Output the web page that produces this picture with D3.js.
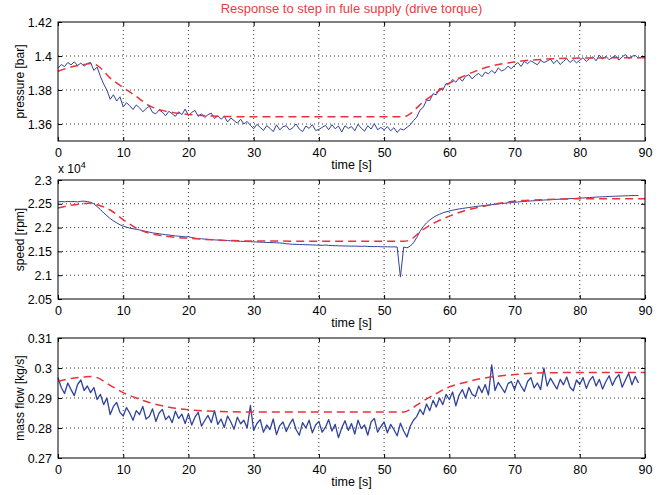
<!DOCTYPE html>
<html>
<head>
<meta charset="utf-8">
<script src="https://cdn.jsdelivr.net/npm/d3@7"></script>
<style>
  body { margin: 0; background: #fff; }
  text { font-family: "Liberation Sans", Arial, sans-serif; }
</style>
</head>
<body>
<div id="chart"></div>
<script>
// ---- data ----
// measured signals sampled every 0.5 s from 0 to 89 s
const sampleStep = 0.5;
const measTime = d3.range(0, 89 + sampleStep / 2, sampleStep);

const pressureMeas = [
  1.3928,1.3950,1.3938,1.3962,1.3948,1.3966,1.3944,1.3958,1.3940,1.3956,
  1.3962,1.3915,1.3935,1.3880,1.3835,1.3800,1.3745,1.3772,1.3735,1.3760,
  1.3700,1.3725,1.3708,1.3685,1.3712,1.3695,1.3672,1.3690,1.3705,1.3668,
  1.3660,1.3682,1.3670,1.3648,1.3675,1.3660,1.3645,1.3672,1.3655,1.3688,
  1.3650,1.3668,1.3680,1.3645,1.3660,1.3638,1.3655,1.3664,1.3632,1.3648,
  1.3628,1.3645,1.3612,1.3635,1.3620,1.3605,1.3628,1.3600,1.3615,1.3592,
  1.3572,1.3598,1.3580,1.3562,1.3590,1.3575,1.3555,1.3595,1.3566,1.3584,
  1.3590,1.3565,1.3578,1.3600,1.3570,1.3555,1.3588,1.3574,1.3596,1.3562,
  1.3568,1.3580,1.3592,1.3566,1.3596,1.3572,1.3588,1.3553,1.3590,1.3574,
  1.3585,1.3560,1.3598,1.3575,1.3558,1.3590,1.3570,1.3602,1.3566,1.3580,
  1.3566,1.3585,1.3560,1.3578,1.3550,1.3572,1.3565,1.3580,1.3595,1.3620,
  1.3640,1.3682,1.3698,1.3740,1.3738,1.3778,1.3772,1.3810,1.3800,1.3838,
  1.3835,1.3862,1.3846,1.3872,1.3852,1.3880,1.3890,1.3865,1.3885,1.3898,
  1.3878,1.3905,1.3895,1.3915,1.3898,1.3930,1.3912,1.3920,1.3940,1.3925,
  1.3945,1.3962,1.3938,1.3968,1.3955,1.3972,1.3960,1.3948,1.3975,1.3962,
  1.3970,1.3982,1.3955,1.3976,1.3950,1.3968,1.3985,1.3962,1.3978,1.3960,
  1.3975,1.3990,1.3968,1.3985,1.3995,1.3972,1.4005,1.3982,1.3998,1.3978,
  1.3992,1.4002,1.3976,1.3995,1.4008,1.3985,1.3998,1.4004,1.3985
];

const speedMeas = [
  22540,22548,22542,22550,22544,22548,22540,22552,22556,22548,
  22530,22500,22440,22380,22310,22250,22190,22140,22100,22060,
  22030,22010,21990,21975,21965,21950,21935,21920,21905,21890,
  21880,21870,21860,21850,21845,21835,21825,21820,21812,21805,
  21810,21790,21778,21770,21765,21758,21752,21748,21742,21738,
  21735,21730,21728,21722,21720,21716,21712,21710,21706,21704,
  21700,21698,21694,21692,21688,21686,21684,21680,21678,21672,
  21660,21655,21650,21648,21646,21644,21640,21638,21636,21634,
  21630,21628,21635,21626,21622,21620,21618,21616,21614,21612,
  21610,21612,21608,21606,21610,21604,21602,21600,21602,21598,
  21596,21598,21594,21596,21592,20960,21592,21575,21610,21680,
  21790,21920,22020,22100,22160,22210,22250,22280,22310,22330,
  22350,22365,22380,22392,22402,22412,22422,22432,22442,22450,
  22458,22466,22474,22482,22490,22498,22505,22512,22520,22526,
  22532,22538,22544,22550,22555,22560,22564,22568,22572,22580,
  22582,22586,22590,22594,22598,22600,22604,22608,22612,22615,
  22625,22622,22628,22632,22636,22640,22644,22648,22650,22654,
  22656,22660,22662,22665,22668,22670,22672,22675,22672
];

const flowMeas = [
  0.2968,0.2935,0.2915,0.2950,0.2928,0.2908,0.2945,0.2960,0.2925,0.2940,
  0.2918,0.2935,0.2895,0.2912,0.2878,0.2900,0.2845,0.2872,0.2885,0.2852,
  0.2840,0.2868,0.2850,0.2826,0.2858,0.2845,0.2872,0.2830,0.2838,0.2864,
  0.2822,0.2850,0.2862,0.2828,0.2840,0.2818,0.2856,0.2832,0.2846,0.2815,
  0.2848,0.2810,0.2836,0.2852,0.2806,0.2825,0.2842,0.2818,0.2858,0.2812,
  0.2830,0.2802,0.2840,0.2820,0.2796,0.2836,0.2814,0.2826,0.2800,0.2875,
  0.2792,0.2815,0.2828,0.2786,0.2810,0.2795,0.2830,0.2778,0.2808,0.2820,
  0.2788,0.2812,0.2830,0.2795,0.2776,0.2818,0.2800,0.2826,0.2784,0.2810,
  0.2822,0.2786,0.2802,0.2828,0.2790,0.2812,0.2768,0.2800,0.2824,0.2792,
  0.2815,0.2780,0.2826,0.2798,0.2810,0.2776,0.2820,0.2832,0.2786,0.2805,
  0.2820,0.2784,0.2812,0.2795,0.2774,0.2816,0.2790,0.2770,0.2806,0.2826,
  0.2838,0.2862,0.2845,0.2880,0.2858,0.2892,0.2870,0.2900,0.2878,0.2912,
  0.2895,0.2920,0.2874,0.2910,0.2928,0.2900,0.2935,0.2912,0.2905,0.2940,
  0.2918,0.2945,0.2910,0.3010,0.2925,0.2952,0.2935,0.2918,0.2948,0.2955,
  0.2928,0.2960,0.2940,0.2922,0.2955,0.2968,0.2934,0.2950,0.2928,0.3000,
  0.2940,0.2966,0.2948,0.2930,0.2962,0.2944,0.2970,0.2936,0.2924,0.2960,
  0.2945,0.2968,0.2932,0.2958,0.2972,0.2940,0.2962,0.2930,0.2955,0.2974,
  0.2942,0.2965,0.2978,0.2936,0.2960,0.2982,0.2944,0.2972,0.2950
];

// model response (red dashed)
const modelTime = [0,2,4,5,6,8,10,12,14,16,18,20,25,30,40,53,54,55,56,58,60,62,65,70,75,80,90];
const pressureModel = [1.3910,1.3935,1.3950,1.3956,1.3945,1.3870,1.3815,1.3762,1.3708,1.3680,1.3665,1.3656,
  1.3645,1.3642,1.3642,1.3642,1.3660,1.3695,1.3730,1.3785,1.3840,1.3878,1.3925,1.3965,1.3982,1.3988,1.3990];
const speedModel = [22410,22470,22505,22515,22480,22370,22165,21990,21880,21830,21795,21775,
  21735,21718,21715,21715,21740,21850,21960,22120,22240,22340,22440,22555,22590,22605,22605];
const flowModel = [0.2955,0.2965,0.2970,0.2972,0.2968,0.2942,0.2918,0.2900,0.2885,0.2874,0.2866,0.2861,
  0.2855,0.2853,0.2853,0.2853,0.2862,0.2876,0.2890,0.2915,0.2937,0.2950,0.2965,0.2978,0.2984,0.2985,0.2985];

// axis ticks
const timeTicks = [0,10,20,30,40,50,60,70,80,90];
const pressureTicks = [1.36,1.38,1.40,1.42];
const speedTicks = [20500,21000,21500,22000,22500,23000];
const flowTicks = [0.27,0.28,0.29,0.30,0.31];

const titleText = "Response to step in fule supply (drive torque)";

// ---- layout ----
const width = 667, height = 495;
const left = 58, right = 645;

const panels = [
  { label: "pressure [bar]", top: 22, bottom: 141, domain: [1.35, 1.42], ticks: pressureTicks,
    meas: pressureMeas, model: pressureModel, lw: 1, fmt: d => String(+d.toFixed(2)) },
  { label: "speed [rpm]", top: 180, bottom: 299, domain: [20500, 23000], ticks: speedTicks,
    meas: speedMeas, model: speedModel, lw: 1, fmt: d => String(+(d / 1e4).toFixed(2)), exp: true },
  { label: "mass flow [kg/s]", top: 338, bottom: 458, domain: [0.27, 0.31], ticks: flowTicks,
    meas: flowMeas, model: flowModel, lw: 1.3, fmt: d => String(+d.toFixed(2)) }
];

let svg = d3.select("#chart")
  .append("svg")
  .attr("width", width)
  .attr("height", height);

let x = d3.scaleLinear().domain([0, 90]).range([left, right]);

svg.append("text")
  .attr("x", (left + right) / 2)
  .attr("y", 13)
  .attr("text-anchor", "middle")
  .style("font-size", "13px")
  .style("fill", "#e8403c")
  .text(titleText);

panels.forEach(function(p) {
  let y = d3.scaleLinear().domain(p.domain).range([p.bottom, p.top]);
  let g = svg.append("g");

  // grid
  g.selectAll(".vgrid").data(timeTicks.slice(1, -1)).enter()
    .append("line")
    .attr("x1", d => x(d)).attr("x2", d => x(d))
    .attr("y1", p.top).attr("y2", p.bottom)
    .attr("stroke", "#000").attr("stroke-width", 0.8)
    .attr("stroke-dasharray", "1,3");
  g.selectAll(".hgrid").data(p.ticks.filter(d => d > p.domain[0] && d < p.domain[1])).enter()
    .append("line")
    .attr("x1", left).attr("x2", right)
    .attr("y1", d => y(d)).attr("y2", d => y(d))
    .attr("stroke", "#000").attr("stroke-width", 0.8)
    .attr("stroke-dasharray", "1,3");

  // measured
  g.append("path")
    .datum(p.meas)
    .attr("fill", "none")
    .attr("stroke", "#2f429c")
    .attr("stroke-width", p.lw)
    .attr("stroke-linejoin", "round")
    .attr("d", d3.line().x((d, i) => x(measTime[i])).y(d => y(d)));

  // model
  g.append("path")
    .datum(p.model)
    .attr("fill", "none")
    .attr("stroke", "#e8323a")
    .attr("stroke-width", 1.5)
    .attr("stroke-dasharray", "8,5")
    .attr("d", d3.line().curve(d3.curveMonotoneX).x((d, i) => x(modelTime[i])).y(d => y(d)));

  // axes with inward ticks
  let axL = g.append("g").attr("transform", `translate(${left},0)`)
    .call(d3.axisLeft(y).tickValues(p.ticks).tickFormat(p.fmt).tickSizeInner(-4).tickSizeOuter(0).tickPadding(6));
  let axR = g.append("g").attr("transform", `translate(${right},0)`)
    .call(d3.axisRight(y).tickValues(p.ticks).tickFormat("").tickSizeInner(-4).tickSizeOuter(0));
  let axB = g.append("g").attr("transform", `translate(0,${p.bottom})`)
    .call(d3.axisBottom(x).tickValues(timeTicks).tickSizeInner(-4).tickSizeOuter(0).tickPadding(7));
  let axT = g.append("g").attr("transform", `translate(0,${p.top})`)
    .call(d3.axisTop(x).tickValues(timeTicks).tickFormat("").tickSizeInner(-4).tickSizeOuter(0));
  [axL, axR, axB, axT].forEach(function(a) {
    a.select(".domain").remove();
    a.selectAll("text").style("font-size", "12.5px").style("fill", "#000")
      .style("font-family", "'Liberation Sans', Arial, sans-serif");
  });

  g.append("rect")
    .attr("x", left).attr("y", p.top)
    .attr("width", right - left).attr("height", p.bottom - p.top)
    .attr("fill", "none").attr("stroke", "#000").attr("stroke-width", 1);

  g.append("text")
    .attr("transform", `translate(24,${(p.top + p.bottom) / 2})rotate(-90)`)
    .attr("text-anchor", "middle")
    .style("font-size", "12px")
    .text(p.label);

  g.append("text")
    .attr("x", (left + right) / 2)
    .attr("y", p.bottom + 28)
    .attr("text-anchor", "middle")
    .style("font-size", "12.5px")
    .text("time [s]");

  if (p.exp) {
    let t = g.append("text")
      .attr("x", left)
      .attr("y", p.top - 7)
      .style("font-size", "12px");
    t.append("tspan").text("x 10");
    t.append("tspan").attr("dy", -5).style("font-size", "9px").text("4");
  }
});
</script>
</body>
</html>
